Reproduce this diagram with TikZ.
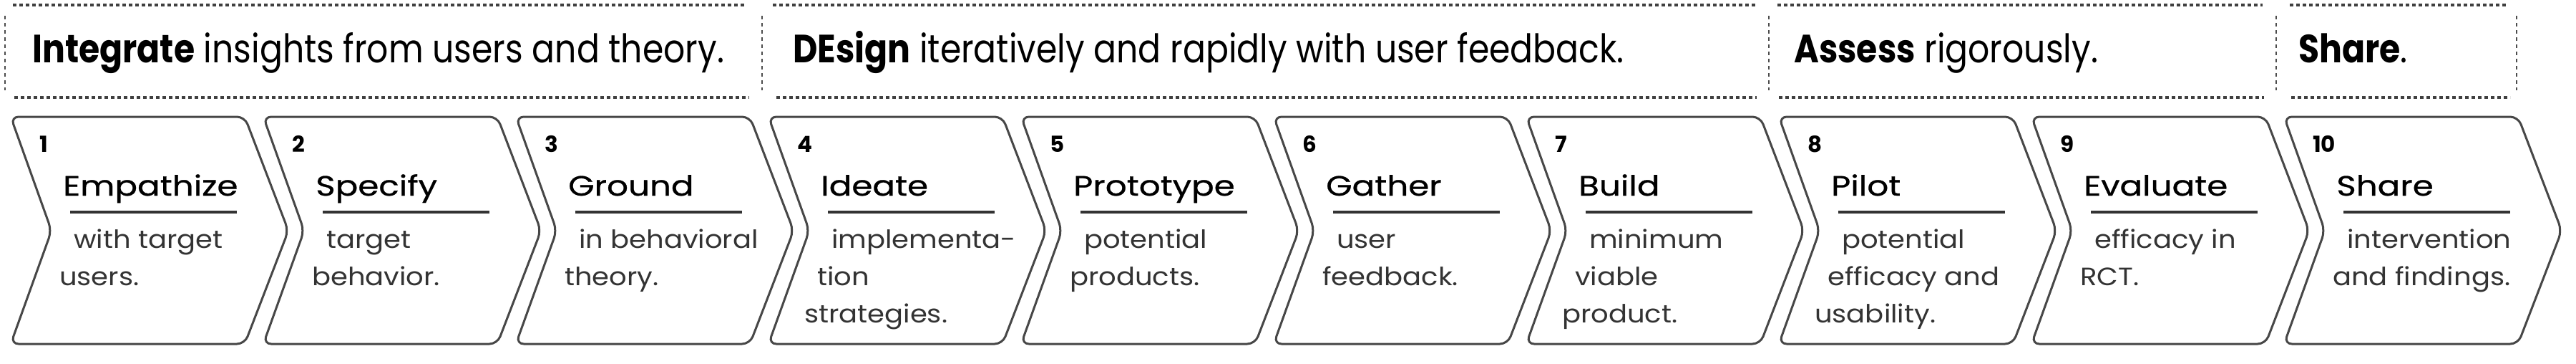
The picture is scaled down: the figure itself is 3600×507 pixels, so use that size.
\documentclass[tikz,border=0pt]{standalone}
\usepackage{fontspec}
\setmainfont{Poppins}
\newfontfamily\hdrfont{Poppins}[FakeStretch=0.86]
\newfontfamily\ttlfont{Poppins}[FakeStretch=1.2, FakeBold=0.7]
\newfontfamily\dscfont{Poppins}[FakeStretch=1.1]
\tikzset{
  chevline/.style={draw=black!72, line width=3pt, rounded corners=11pt},
  hline/.style={draw=black!75, line width=3.5pt, dash pattern=on 5pt off 4pt},
  vline/.style={draw=black!70, line width=2pt, dash pattern=on 5pt off 5pt},
  uline/.style={draw=black!80, line width=4.5pt},
  hdr/.style={inner sep=0pt, anchor=base west, text=black, font=\hdrfont\fontsize{55}{60}\selectfont},
  num/.style={inner sep=0pt, anchor=base west, text=black, font=\fontsize{31}{34}\selectfont\bfseries},
  ttl/.style={inner sep=0pt, anchor=base west, text=black, font=\ttlfont\fontsize{39}{42}\selectfont},
  dsc/.style={inner sep=0pt, anchor=base west, text=black!80, font=\dscfont\fontsize{35}{38}\selectfont},
}
\newcommand{\mychev}[6]{%
  \pgfmathsetmacro\L{15+353*#1}
  \draw[chevline] (\L,163) -- (\L+327,163) -- (\L+388,322) -- (\L+327,480) -- (\L,480) -- (\L+57,322) -- cycle;
  \node[num] (n#2) at (\L+40,212) {#2};
  \node[ttl] (t#2) at (\L+73,273) {#3};
  \draw[uline] (\L+83,296) -- (\L+316,296);
  \node[dsc] (da#2) at (\L+88,346) {#4};
  \node[dsc] (db#2) at (\L+68,398) {#5};
  \node[dsc] (dc#2) at (\L+50,450) {#6};
}
\begin{document}
\begin{tikzpicture}[x=1pt,y=-1pt]
\useasboundingbox[fill=white] (0,0) rectangle (3600,507);
% header lines
\draw[hline] (18,7) -- (1043,7);
\draw[hline] (20,136) -- (1047,136);
\draw[hline] (1080,7) -- (2453,7);
\draw[hline] (1085,136) -- (2455,136);
\draw[hline] (2484,7) -- (3162,7);
\draw[hline] (2486,136) -- (3164,136);
\draw[hline] (3200,7) -- (3504,7);
\draw[hline] (3202,136) -- (3508,136);
\foreach \xx in {7,1065,2472,3181,3517} \draw[vline] (\xx,22) -- (\xx,126);
% header texts
\node[hdr] (h1) at (45,87) {\textbf{Integrate} insights from users and theory.};
\node[hdr] (h2) at (1108,87) {\textbf{DEsign} iteratively and rapidly with user feedback.};
\node[hdr] (h3) at (2507,87) {\textbf{Assess} rigorously.};
\node[hdr] (h4) at (3212,87) {\textbf{Share}.};
% chevrons
\mychev{0}{1}{Empathize}{with target}{users.}{}
\mychev{1}{2}{Specify}{target}{behavior.}{}
\mychev{2}{3}{Ground}{in behavioral}{theory.}{}
\mychev{3}{4}{Ideate}{implementa-}{tion}{strategies.}
\mychev{4}{5}{Prototype}{potential}{products.}{}
\mychev{5}{6}{Gather}{user}{feedback.}{}
\mychev{6}{7}{Build}{minimum}{viable}{product.}
\mychev{7}{8}{Pilot}{potential}{efficacy and}{usability.}
\mychev{8}{9}{Evaluate}{efficacy in}{RCT.}{}
\mychev{9}{10}{Share}{intervention}{and findings.}{}
\end{tikzpicture}
\end{document}
